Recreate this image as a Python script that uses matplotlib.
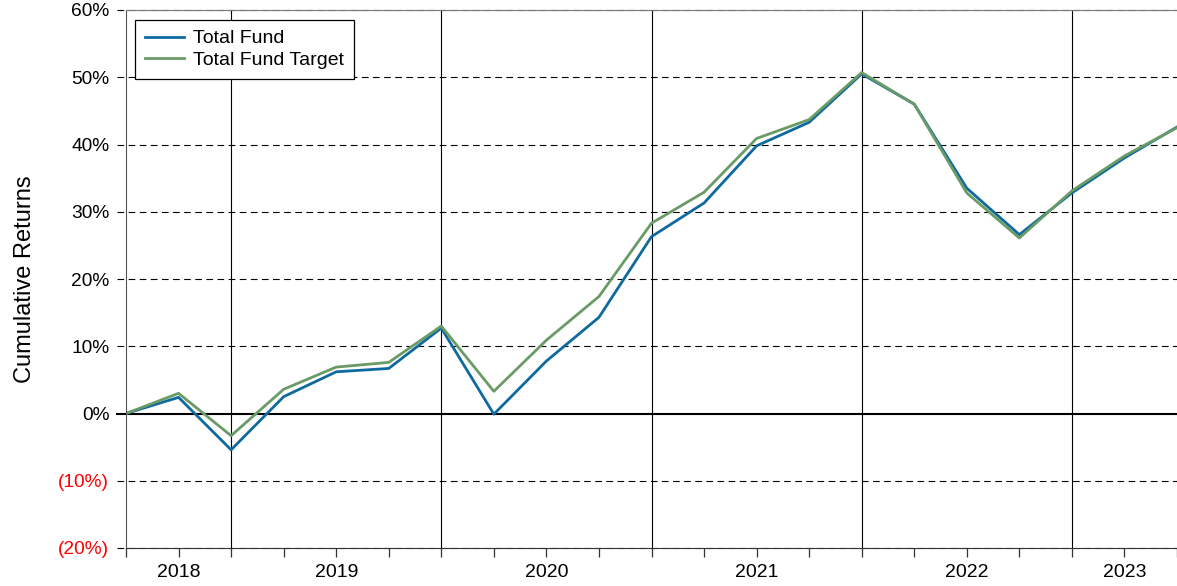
import matplotlib
matplotlib.use("Agg")
import matplotlib.pyplot as plt
import numpy as np

plt.rcParams['font.family'] = ['Liberation Sans', 'DejaVu Sans']

# Quarter-end index 0 = mid 2018 ... 20 = mid 2023
total_fund = [0.0, 2.4, -5.4, 2.5, 6.2, 6.7, 12.7, -0.1, 7.8, 14.3, 26.3,
              31.3, 39.8, 43.3, 50.5, 46.0, 33.5, 26.6, 32.8, 38.0, 42.6]
target = [0.0, 3.0, -3.3, 3.6, 6.9, 7.6, 13.0, 3.3, 10.9, 17.4, 28.3,
          32.9, 40.9, 43.7, 50.7, 46.0, 32.8, 26.1, 33.1, 38.3, 42.5]
year_labels = ['2018', '2019', '2020', '2021', '2022', '2023']
year_label_pos = [1, 4, 8, 12, 16, 19]
year_boundaries = [2, 6, 10, 14, 18]
y_ticks = [-20, -10, 0, 10, 20, 30, 40, 50, 60]

W, H = 1177, 586
fig = plt.figure(figsize=(W / 100, H / 100), dpi=100)
ax = fig.add_axes([126 / W, 1 - 548 / H, 1 - 126 / W, (548 - 10) / H])

x = np.arange(len(total_fund))
ext = -9 / (W - 126)  # grid lines poke out left of the axis like tick marks

for yv in y_ticks:
    if yv == 0:
        ax.axhline(0, xmin=ext, xmax=1, color='black', lw=1.5, zorder=2,
                   clip_on=False)
    else:
        ax.axhline(yv, xmin=ext, xmax=1, color='black', lw=0.8,
                   ls=(0, (6, 4)), zorder=1, clip_on=False)
for xb in year_boundaries:
    ax.axvline(xb, color='black', lw=0.8, zorder=1)

ax.plot(x, total_fund, color='#0E6A9E', lw=2.0, label='Total Fund', zorder=3)
ax.plot(x, target, color='#6A9B66', lw=2.0, label='Total Fund Target', zorder=4)

ax.set_xlim(0, 20)
ax.set_ylim(-20, 60)

ax.set_yticks(y_ticks)
labels = [f'({abs(v)}%)' if v < 0 else f'{v}%' for v in y_ticks]
ax.set_yticklabels(labels, fontsize=13.8)
for lbl, v in zip(ax.get_yticklabels(), y_ticks):
    if v < 0:
        lbl.set_color('red')
ax.tick_params(axis='y', length=0, pad=12)

xt = list(range(21))
ax.set_xticks(xt)
xlabels = [''] * 21
for pos, lab in zip(year_label_pos, year_labels):
    xlabels[pos] = lab
ax.set_xticklabels(xlabels, fontsize=14)
ax.tick_params(axis='x', length=6.5, width=0.9, pad=5, color='#333333')

ax.set_ylabel('Cumulative Returns', fontsize=17, labelpad=16)

ax.spines['right'].set_visible(False)
ax.spines['top'].set_color('#777777')
ax.spines['left'].set_color('#555555')
ax.spines['bottom'].set_color('#333333')
for s in ax.spines.values():
    s.set_zorder(5)

leg = ax.legend(loc='upper left', fontsize=14, frameon=True, fancybox=False,
                edgecolor='black', framealpha=1, borderpad=0.5,
                labelspacing=0.22, handlelength=2.0, handletextpad=0.5,
                borderaxespad=0, bbox_to_anchor=(9 / (W - 126), 1 - 10 / 538))
leg.get_frame().set_linewidth(0.9)
leg.set_zorder(6)

fig.savefig('out.png', dpi=100)
